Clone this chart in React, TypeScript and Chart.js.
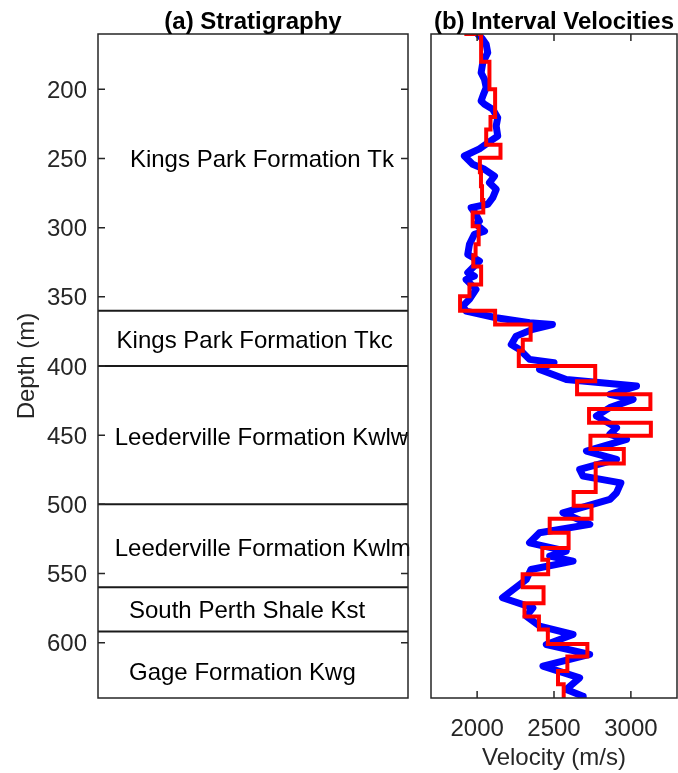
import React, { useEffect, useRef } from "react";
import { Chart, registerables } from "chart.js";

Chart.register(...registerables);

const FONT = '"Liberation Sans", Arial, Helvetica, sans-serif';
const AXIS_COLOR = "#262626";
const FONT_SIZE = 24;

// Depth axis (shared by both panels)
const depthMin = 160;
const depthMax = 640;
const depthTicks = [200, 250, 300, 350, 400, 450, 500, 550, 600];

// Stratigraphic units
const formationNames = [
  "Kings Park Formation Tk",
  "Kings Park Formation Tkc",
  "Leederville Formation Kwlw",
  "Leederville Formation Kwlm",
  "South Perth Shale Kst",
  "Gage Formation Kwg",
];
const formationTops = [160, 360, 400, 500, 560, 592];
const formationBases = [360, 400, 500, 560, 592, 640];
const formationLabelDepths = [250, 381, 451, 531, 576, 621];

// Velocity axis
const velocityMin = 1700;
const velocityMax = 3300;
const velocityTicks = [2000, 2500, 3000];

// Velocity log (depth in m, velocity in m/s)
const logDepth = [
  160, 163, 167.5, 173.5, 180.7, 188, 192.8, 198.8, 204, 208.4, 210.8, 214.5,
  220.5, 226.5, 233.8, 236.2, 243, 248.2, 254.2, 257.8, 262.7, 267.5, 272.3,
  278.3, 283.1, 285.5, 290, 295.2, 297.6, 302.5, 304.8, 312.1, 319.3, 324.1,
  332.5, 335, 337.4, 344.6, 351.8, 356.7, 360.3, 365.1, 368.7, 370, 373.5,
  378.4, 384.4, 388, 395.2, 397.6, 402.5, 409.7, 414.5, 420.5, 424.1, 430.1,
  436.2, 444.6, 449.4, 453.1, 461.5, 467.5, 474.8, 479.6, 484.5, 491.6, 496.5,
  506.1, 514.5, 520.5, 527.8, 533.8, 537.4, 541.1, 547.1, 554.3, 567.5, 574.8,
  580.8, 588, 594.1, 601.3, 608.5, 617, 625.4, 633.8, 638.7, 640,
];
const logVelocity = [
  2004, 2030, 2059, 2069, 2037, 2026, 2048, 2059, 2040, 2026, 2048, 2102,
  2134, 2124, 2134, 2102, 2015, 1917, 1971, 2048, 2113, 2080, 2124,
  2102, 2069, 1961, 1990, 2015, 1993, 2048, 1982, 1950, 1939, 2015,
  1939, 1982, 1928, 1993, 1950, 1906, 1928, 2124, 2341, 2490, 2363,
  2254, 2222, 2276, 2341, 2500, 2406, 2580, 3037, 2863, 3015, 2863,
  2776, 2907, 2863, 2972, 2711, 2907, 2667, 2689, 2935, 2907, 2863,
  2558, 2733, 2406, 2341, 2580, 2472, 2624, 2350, 2320, 2165, 2363,
  2320, 2406, 2624, 2450, 2732, 2428, 2667, 2580, 2689, 2690,
];

// Interval velocities: layer boundaries (m) and one velocity per layer (m/s)
const intervalBoundaries = [
  150, 160, 180, 200, 220, 229, 240, 249.5, 260, 270, 280, 289, 299, 312, 320,
  328, 341, 349.5, 360, 370, 381, 389, 400, 411, 420.5, 431, 441, 450.5, 460,
  470.5, 491, 501, 510.5, 520.5, 531.5, 540, 550.5, 560, 571.5, 581, 590.5,
  601, 610, 620.5, 630, 640,
];
const intervalVelocity = [
  1930, 2026, 2080, 2117, 2087, 2059, 2152, 2018, 2025, 2032, 2040, 1971, 2010,
  1990, 1975, 2026, 1950, 1889, 2117, 2348, 2297, 2271, 2768, 2650, 3127, 2728,
  3130, 2737, 2954, 2771, 2628, 2744, 2472, 2595, 2424, 2462, 2296, 2432, 2308,
  2402, 2460, 2717, 2587, 2526, 2563,
];

// Horizontal anchor of each unit label, as a fraction of the panel width
const labelAnchor = [0.103, 0.06, 0.054, 0.054, 0.1, 0.1];

type FrameOpts = {
  title: string;
  yTicks?: number[];
  xTicks?: number[];
};

function framePlugin(opts: FrameOpts) {
  return {
    id: "frameAndTitle",
    afterDraw(chart: any) {
      const { ctx, chartArea } = chart;
      const { left, right, top, bottom } = chartArea;
      const tickLen = 7;
      ctx.save();
      ctx.strokeStyle = AXIS_COLOR;
      ctx.lineWidth = 1.5;
      ctx.strokeRect(left, top, right - left, bottom - top);
      ctx.beginPath();
      if (opts.yTicks) {
        const ys = chart.scales.y;
        for (const v of opts.yTicks) {
          const py = ys.getPixelForValue(v);
          ctx.moveTo(left, py);
          ctx.lineTo(left + tickLen, py);
          ctx.moveTo(right, py);
          ctx.lineTo(right - tickLen, py);
        }
      }
      if (opts.xTicks) {
        const xs = chart.scales.x;
        for (const v of opts.xTicks) {
          const px = xs.getPixelForValue(v);
          ctx.moveTo(px, bottom);
          ctx.lineTo(px, bottom - tickLen);
          ctx.moveTo(px, top);
          ctx.lineTo(px, top + tickLen);
        }
      }
      ctx.stroke();
      ctx.fillStyle = "#000";
      ctx.font = `bold ${FONT_SIZE}px ${FONT}`;
      ctx.textAlign = "center";
      ctx.textBaseline = "alphabetic";
      ctx.fillText(opts.title, (left + right) / 2, 29);
      ctx.restore();
    },
  };
}

const unitLabelPlugin = {
  id: "unitLabels",
  afterDatasetsDraw(chart: any) {
    const { ctx } = chart;
    const xs = chart.scales.x;
    const ys = chart.scales.y;
    ctx.save();
    ctx.fillStyle = "#000";
    ctx.font = `${FONT_SIZE}px ${FONT}`;
    ctx.textAlign = "left";
    ctx.textBaseline = "middle";
    formationNames.forEach((name, i) => {
      ctx.fillText(
        name,
        xs.getPixelForValue(labelAnchor[i]),
        ys.getPixelForValue(formationLabelDepths[i]) + 2
      );
    });
    ctx.restore();
  },
};

const plainNumber = (v: number | string) => String(v);

export default function App() {
  const leftRef = useRef<HTMLCanvasElement>(null);
  const rightRef = useRef<HTMLCanvasElement>(null);

  useEffect(() => {
    const tickFont = { family: FONT, size: FONT_SIZE };

    // Internal unit boundaries (top of every unit below the first)
    const boundaryDatasets = formationTops
      .filter((d) => d > depthMin && d < depthMax)
      .map((d) => ({
        data: [
          { x: 0, y: d },
          { x: 1, y: d },
        ],
        showLine: true,
        borderColor: "#1a1a1a",
        borderWidth: 2,
        pointRadius: 0,
      }));

    const left = new Chart(leftRef.current!, {
      type: "scatter",
      data: { datasets: boundaryDatasets as any },
      options: {
        animation: false,
        responsive: false,
        events: [],
        layout: { padding: { top: 34, bottom: 75, right: 12, left: 0 } },
        plugins: {
          legend: { display: false },
          tooltip: { enabled: false },
          title: { display: false },
        },
        scales: {
          x: { type: "linear", min: 0, max: 1, display: false },
          y: {
            type: "linear",
            reverse: true,
            min: depthMin,
            max: Math.max(depthMax, ...formationBases),
            afterFit: (s: any) => {
              s.width = 98;
            },
            afterBuildTicks: (s: any) => {
              s.ticks = depthTicks.map((v) => ({ value: v }));
            },
            grid: { display: false, drawTicks: false },
            border: { display: false },
            ticks: {
              padding: 11,
              labelOffset: 2,
              color: AXIS_COLOR,
              font: tickFont,
              callback: plainNumber,
            },
            title: {
              display: true,
              text: "Depth (m)",
              color: AXIS_COLOR,
              font: tickFont,
              padding: { top: 13, bottom: 0 },
            },
          },
        },
      } as any,
      plugins: [
        unitLabelPlugin,
        framePlugin({ title: "(a) Stratigraphy", yTicks: depthTicks }),
      ],
    });

    // Build the staircase for the interval velocities
    const stairs: { x: number; y: number }[] = [];
    intervalVelocity.forEach((v, i) => {
      stairs.push({ x: v, y: intervalBoundaries[i] });
      stairs.push({ x: v, y: intervalBoundaries[i + 1] });
    });
    const logPoints = logDepth.map((d, i) => ({ x: logVelocity[i], y: d }));

    const right = new Chart(rightRef.current!, {
      type: "scatter",
      data: {
        datasets: [
          {
            data: stairs,
            showLine: true,
            borderColor: "#ff0000",
            borderWidth: 4,
            pointRadius: 0,
            borderJoinStyle: "miter",
            order: 0,
          },
          {
            data: logPoints,
            showLine: true,
            borderColor: "#0000ff",
            borderWidth: 7,
            pointRadius: 0,
            borderJoinStyle: "round",
            borderCapStyle: "round",
            order: 1,
          },
        ] as any,
      },
      options: {
        animation: false,
        responsive: false,
        events: [],
        layout: { padding: { top: 34, bottom: 0, right: 1, left: 11 } },
        plugins: {
          legend: { display: false },
          tooltip: { enabled: false },
          title: { display: false },
        },
        scales: {
          x: {
            type: "linear",
            position: "bottom",
            min: velocityMin,
            max: velocityMax,
            afterFit: (s: any) => {
              s.height = 75;
            },
            afterBuildTicks: (s: any) => {
              s.ticks = velocityTicks.map((v) => ({ value: v }));
            },
            grid: { display: false, drawTicks: false },
            border: { display: false },
            ticks: {
              padding: 17,
              color: AXIS_COLOR,
              font: tickFont,
              callback: plainNumber,
            },
            title: {
              display: true,
              text: "Velocity (m/s)",
              color: AXIS_COLOR,
              font: tickFont,
              padding: { top: 0, bottom: 0 },
            },
          },
          y: {
            type: "linear",
            reverse: true,
            min: depthMin,
            max: depthMax,
            display: false,
          },
        },
      } as any,
      plugins: [
        framePlugin({ title: "(b) Interval Velocities", xTicks: velocityTicks }),
      ],
    });

    return () => {
      left.destroy();
      right.destroy();
    };
  }, []);

  return (
    <div
      style={{
        position: "absolute",
        left: 0,
        top: 0,
        width: 678,
        height: 773,
        background: "#fff",
      }}
    >
      <canvas
        ref={leftRef}
        width={420}
        height={773}
        style={{ position: "absolute", left: 0, top: 0 }}
      />
      <canvas
        ref={rightRef}
        width={258}
        height={773}
        style={{ position: "absolute", left: 420, top: 0 }}
      />
    </div>
  );
}
